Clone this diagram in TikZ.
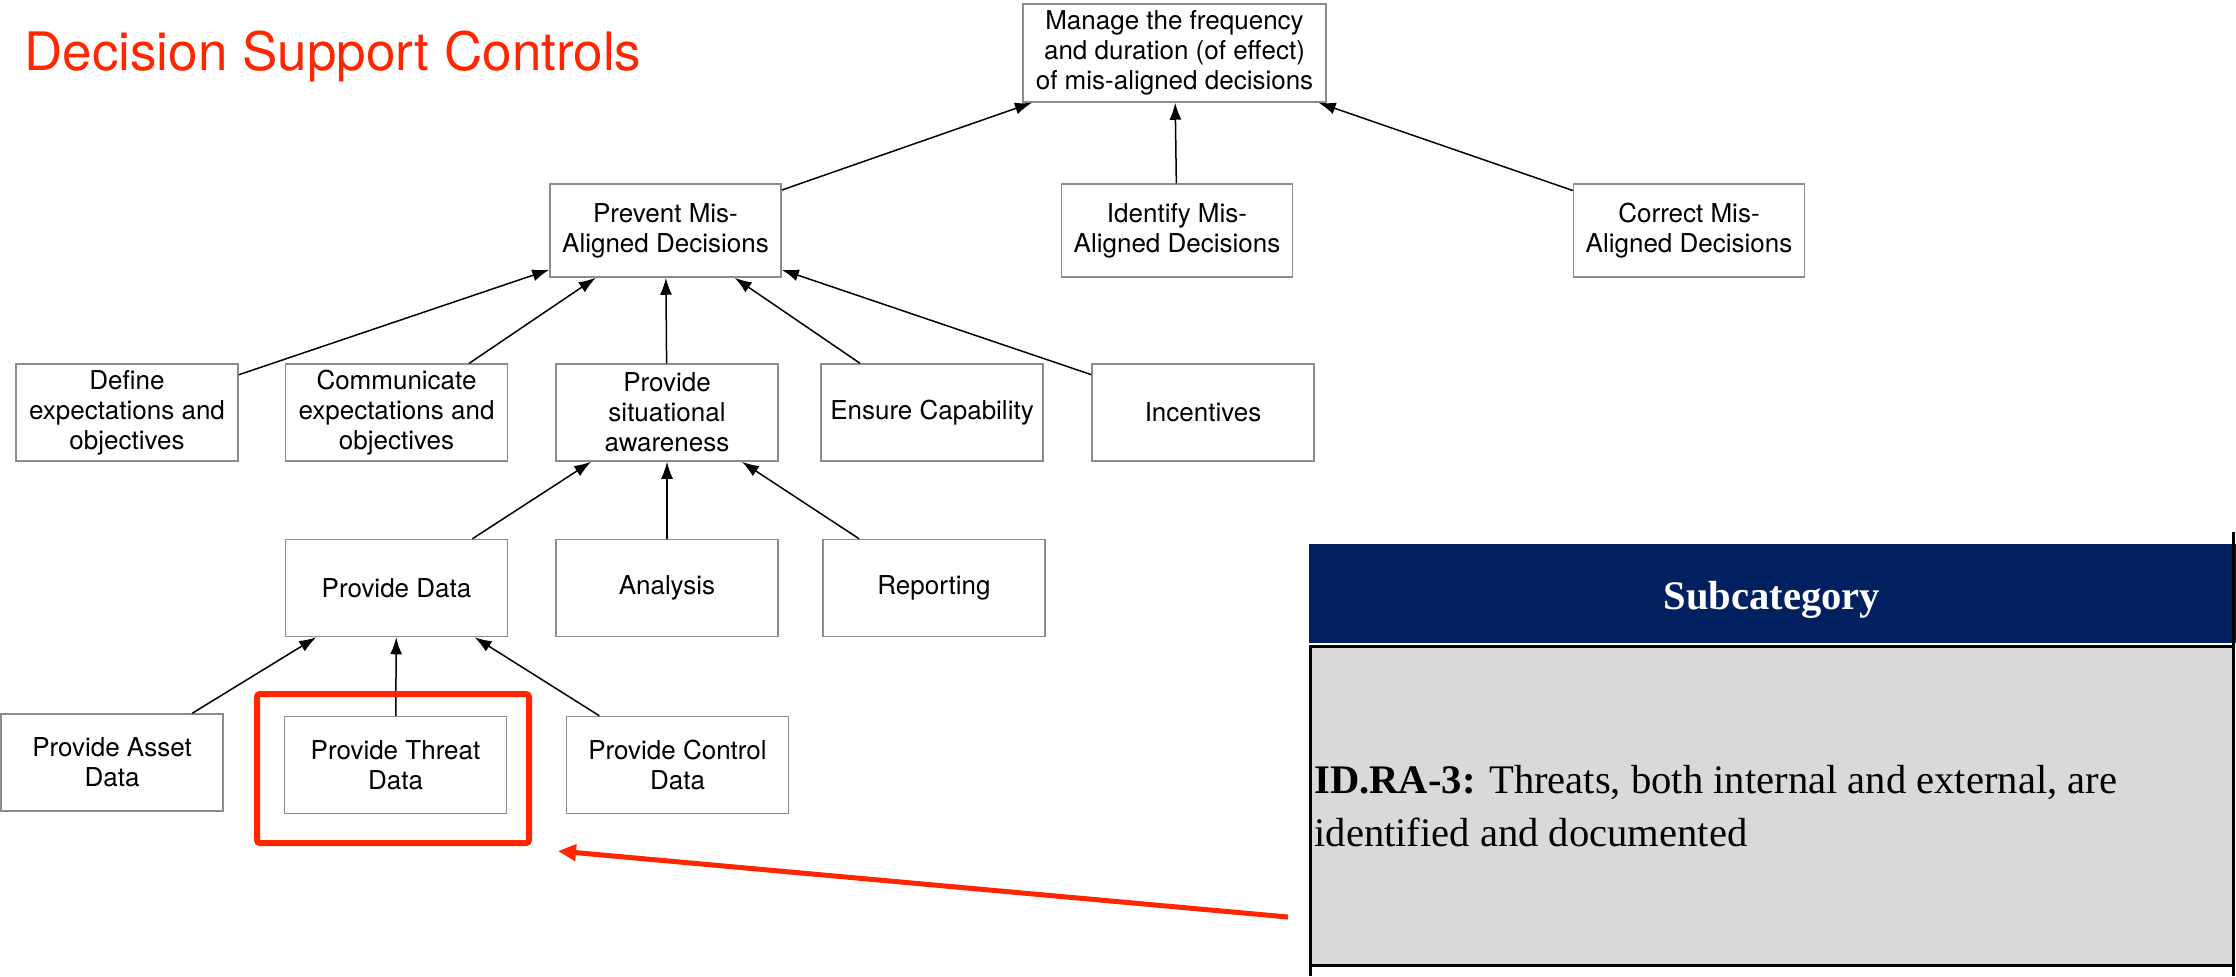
\documentclass[tikz,border=0pt]{standalone}
\usepackage{fontspec}
\setmainfont{TeX Gyre Heros}
\newfontfamily\nistfont{Liberation Serif}
\usetikzlibrary{arrows.meta}

\definecolor{alertred}{RGB}{255,38,0}
\definecolor{nistblue}{RGB}{0,32,96}
\definecolor{nistgray}{RGB}{217,217,217}
\definecolor{boxgray}{RGB}{140,140,140}

\tikzset{
  ctrl/.style={draw=boxgray, line width=0.75pt, fill=white, align=center,
    minimum width=111pt, minimum height=48.5pt, inner sep=2pt,
    font=\fontsize{13pt}{15pt}\selectfont},
  goal/.style={ctrl, minimum width=115.5pt, minimum height=46.5pt},
  feeds/.style={line width=0.75pt, -{Latex[length=8.5pt,width=6pt]}},
  nisttext/.style={font=\nistfont\fontsize{20.3pt}{26pt}\selectfont, inner sep=0pt}
}

\begin{document}
\begin{tikzpicture}[x=0.5pt,y=-0.5pt]
  \useasboundingbox (0,0) rectangle (2236,976);
  \node[anchor=base west, inner sep=0pt, text=alertred,
    font=\fontsize{26.5pt}{30pt}\selectfont] (title) at (24,70) {Decision Support Controls};

  \node[ctrl, minimum width=151.5pt, minimum height=49pt] (manage) at (1174.5,53)
    {Manage the frequency\\and duration (of effect)\\of mis-aligned decisions};
  \node[goal] (prevent) at (665.5,230.5) {Prevent Mis-\\Aligned Decisions};
  \node[goal] (identify) at (1177,230.5) {Identify Mis-\\Aligned Decisions};
  \node[goal] (correct) at (1689,230.5) {Correct Mis-\\Aligned Decisions};
  \node[ctrl] (define) at (127,412.5) {Define\\expectations and\\objectives};
  \node[ctrl] (communicate) at (396.5,412.5) {Communicate\\expectations and\\objectives};
  \node[ctrl] (awareness) at (667,412.5) {Provide\\situational\\awareness};
  \node[ctrl] (capability) at (932,412.5) {Ensure Capability};
  \node[ctrl] (incentives) at (1203,412.5) {Incentives};
  \node[ctrl] (data) at (396.5,588) {Provide Data};
  \node[ctrl] (analysis) at (667,588) {Analysis};
  \node[ctrl] (reporting) at (934,588) {Reporting};
  \node[ctrl] (asset) at (112,762.5) {Provide Asset\\Data};
  \node[ctrl] (threat) at (395.5,765) {Provide Threat\\Data};
  \node[ctrl] (control) at (677.5,765) {Provide Control\\Data};

  \draw[feeds] (prevent) -- (manage);
  \draw[feeds] (identify) -- (manage);
  \draw[feeds] (correct) -- (manage);
  \draw[feeds] (define) -- (prevent);
  \draw[feeds] (communicate) -- (prevent);
  \draw[feeds] (awareness) -- (prevent);
  \draw[feeds] (capability) -- (prevent);
  \draw[feeds] (incentives) -- (prevent);
  \draw[feeds] (data) -- (awareness);
  \draw[feeds] (analysis) -- (awareness);
  \draw[feeds] (reporting) -- (awareness);
  \draw[feeds] (asset) -- (data);
  \draw[feeds] (threat) -- (data);
  \draw[feeds] (control) -- (data);

  % highlight and pointer
  \node[draw=alertred, line width=3pt, rounded corners=1.5pt,
    minimum width=136pt, minimum height=74.5pt] (focus) at (393,768.5) {};
  \coordinate (pointtip) at (558,851);
  \coordinate (pointtail) at (1288,917);
  \draw[alertred, line width=2.5pt, -{Triangle[length=9pt,width=8pt]}] (pointtail) -- (pointtip);

  % table cut-out
  \fill[nistblue] (1309,544) rectangle (2236,643);
  \node[nisttext, anchor=base, text=white, font=\nistfont\bfseries\fontsize{20.3pt}{26pt}\selectfont]
    (subcat) at (1772,609) {Subcategory};
  \draw[line width=1.5pt, fill=nistgray] (1310.5,646) rectangle (2233,965);
  \draw[line width=1.5pt] (1310.5,965) -- (1310.5,976);
  \draw[line width=1.5pt] (2233,532) -- (2233,976);
  \node[nisttext, anchor=base west] (ra1) at (1314,793)
    {\textbf{ID.RA-3:} Threats, both internal and external, are};
  \node[nisttext, anchor=base west] (ra2) at (1314,846) {identified and documented};
\end{tikzpicture}
\end{document}
